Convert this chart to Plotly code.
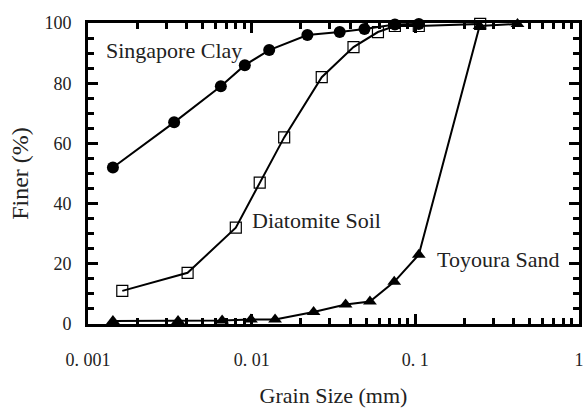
import plotly.graph_objects as go

# Grain size distribution data (grain size in mm, percent finer)
clay_size = [0.00142, 0.00336, 0.00648, 0.00908, 0.0128, 0.0219, 0.0345, 0.0489, 0.075, 0.105]
clay_finer = [52, 67, 79, 86, 91, 96, 97, 98, 99.5, 99.7]

diatomite_size = [0.00162, 0.00406, 0.0080, 0.0112, 0.0158, 0.0268, 0.0419, 0.0591, 0.075, 0.105, 0.249]
diatomite_finer = [11, 17, 32, 47, 62, 82, 92, 97, 99, 99, 99.7]

toyoura_size = [0.00142, 0.00355, 0.0066, 0.0099, 0.0139, 0.0239, 0.0375, 0.0528, 0.0743, 0.105, 0.247, 0.421]
toyoura_finer = [1, 1, 1.2, 1.5, 1.5, 4, 6.5, 7.5, 14, 23, 99, 99.7]

x_tickvals = [0.001, 0.01, 0.1, 1]
x_ticktext = ["0. 001", "0. 01", "0. 1", "1"]
y_tickvals = [0, 20, 40, 60, 80, 100]

FONT = "Liberation Serif"

fig = go.Figure()

fig.add_trace(go.Scatter(
    x=clay_size, y=clay_finer, mode="lines+markers", cliponaxis=False,
    line=dict(color="black", width=2),
    marker=dict(symbol="circle", size=12, color="black"),
    name="Singapore Clay",
))
fig.add_trace(go.Scatter(
    x=diatomite_size, y=diatomite_finer, mode="lines+markers", cliponaxis=False,
    line=dict(color="black", width=2),
    marker=dict(symbol="square-open", size=11, color="black", line=dict(width=1.2)),
    name="Diatomite Soil",
))
fig.add_trace(go.Scatter(
    x=toyoura_size, y=toyoura_finer, mode="lines+markers", cliponaxis=False,
    line=dict(color="black", width=2),
    marker=dict(symbol="triangle-up", size=12, color="black"),
    name="Toyoura Sand",
))

# Curve labels placed inside the plot
label_font = dict(family=FONT, size=22, color="#222")
fig.add_annotation(x=-2.905, y=90.7, xref="x", yref="y", text="Singapore Clay",
                   showarrow=False, xanchor="left", yanchor="middle", font=label_font)
fig.add_annotation(x=-2.008, y=34.3, xref="x", yref="y", text="Diatomite Soil",
                   showarrow=False, xanchor="left", yanchor="middle", font=label_font)
fig.add_annotation(x=-0.88, y=21.3, xref="x", yref="y", text="Toyoura Sand",
                   showarrow=False, xanchor="left", yanchor="middle", font=label_font)

axis_common = dict(
    showline=True, linecolor="black", linewidth=3, mirror="allticks",
    ticks="inside", ticklen=10, tickwidth=3, tickcolor="black",
    showgrid=False, zeroline=False, automargin=False,
    tickfont=dict(family=FONT, size=18, color="#222"),
)

fig.update_xaxes(
    type="log", range=[-3, 0],
    tickvals=x_tickvals, ticktext=x_ticktext,
    minor=dict(ticks="inside", ticklen=6, tickwidth=3, tickcolor="black", dtick="D1", showgrid=False),
    title=dict(text="Grain Size (mm)", font=dict(family=FONT, size=22, color="#222"), standoff=24),
    ticklabelstandoff=17,
    **axis_common,
)
fig.update_yaxes(
    range=[0, 100], tickvals=y_tickvals,
    minor=dict(ticks="inside", ticklen=6, tickwidth=3, tickcolor="black", dtick=5, showgrid=False),
    title=dict(text="Finer (%)", font=dict(family=FONT, size=24, color="#222"), standoff=10),
    ticklabelstandoff=10,
    **axis_common,
)

fig.update_layout(
    width=587, height=408,
    margin=dict(l=88, r=8, t=23, b=84),
    plot_bgcolor="white", paper_bgcolor="white",
    showlegend=False,
)

fig.write_html("out.html")
